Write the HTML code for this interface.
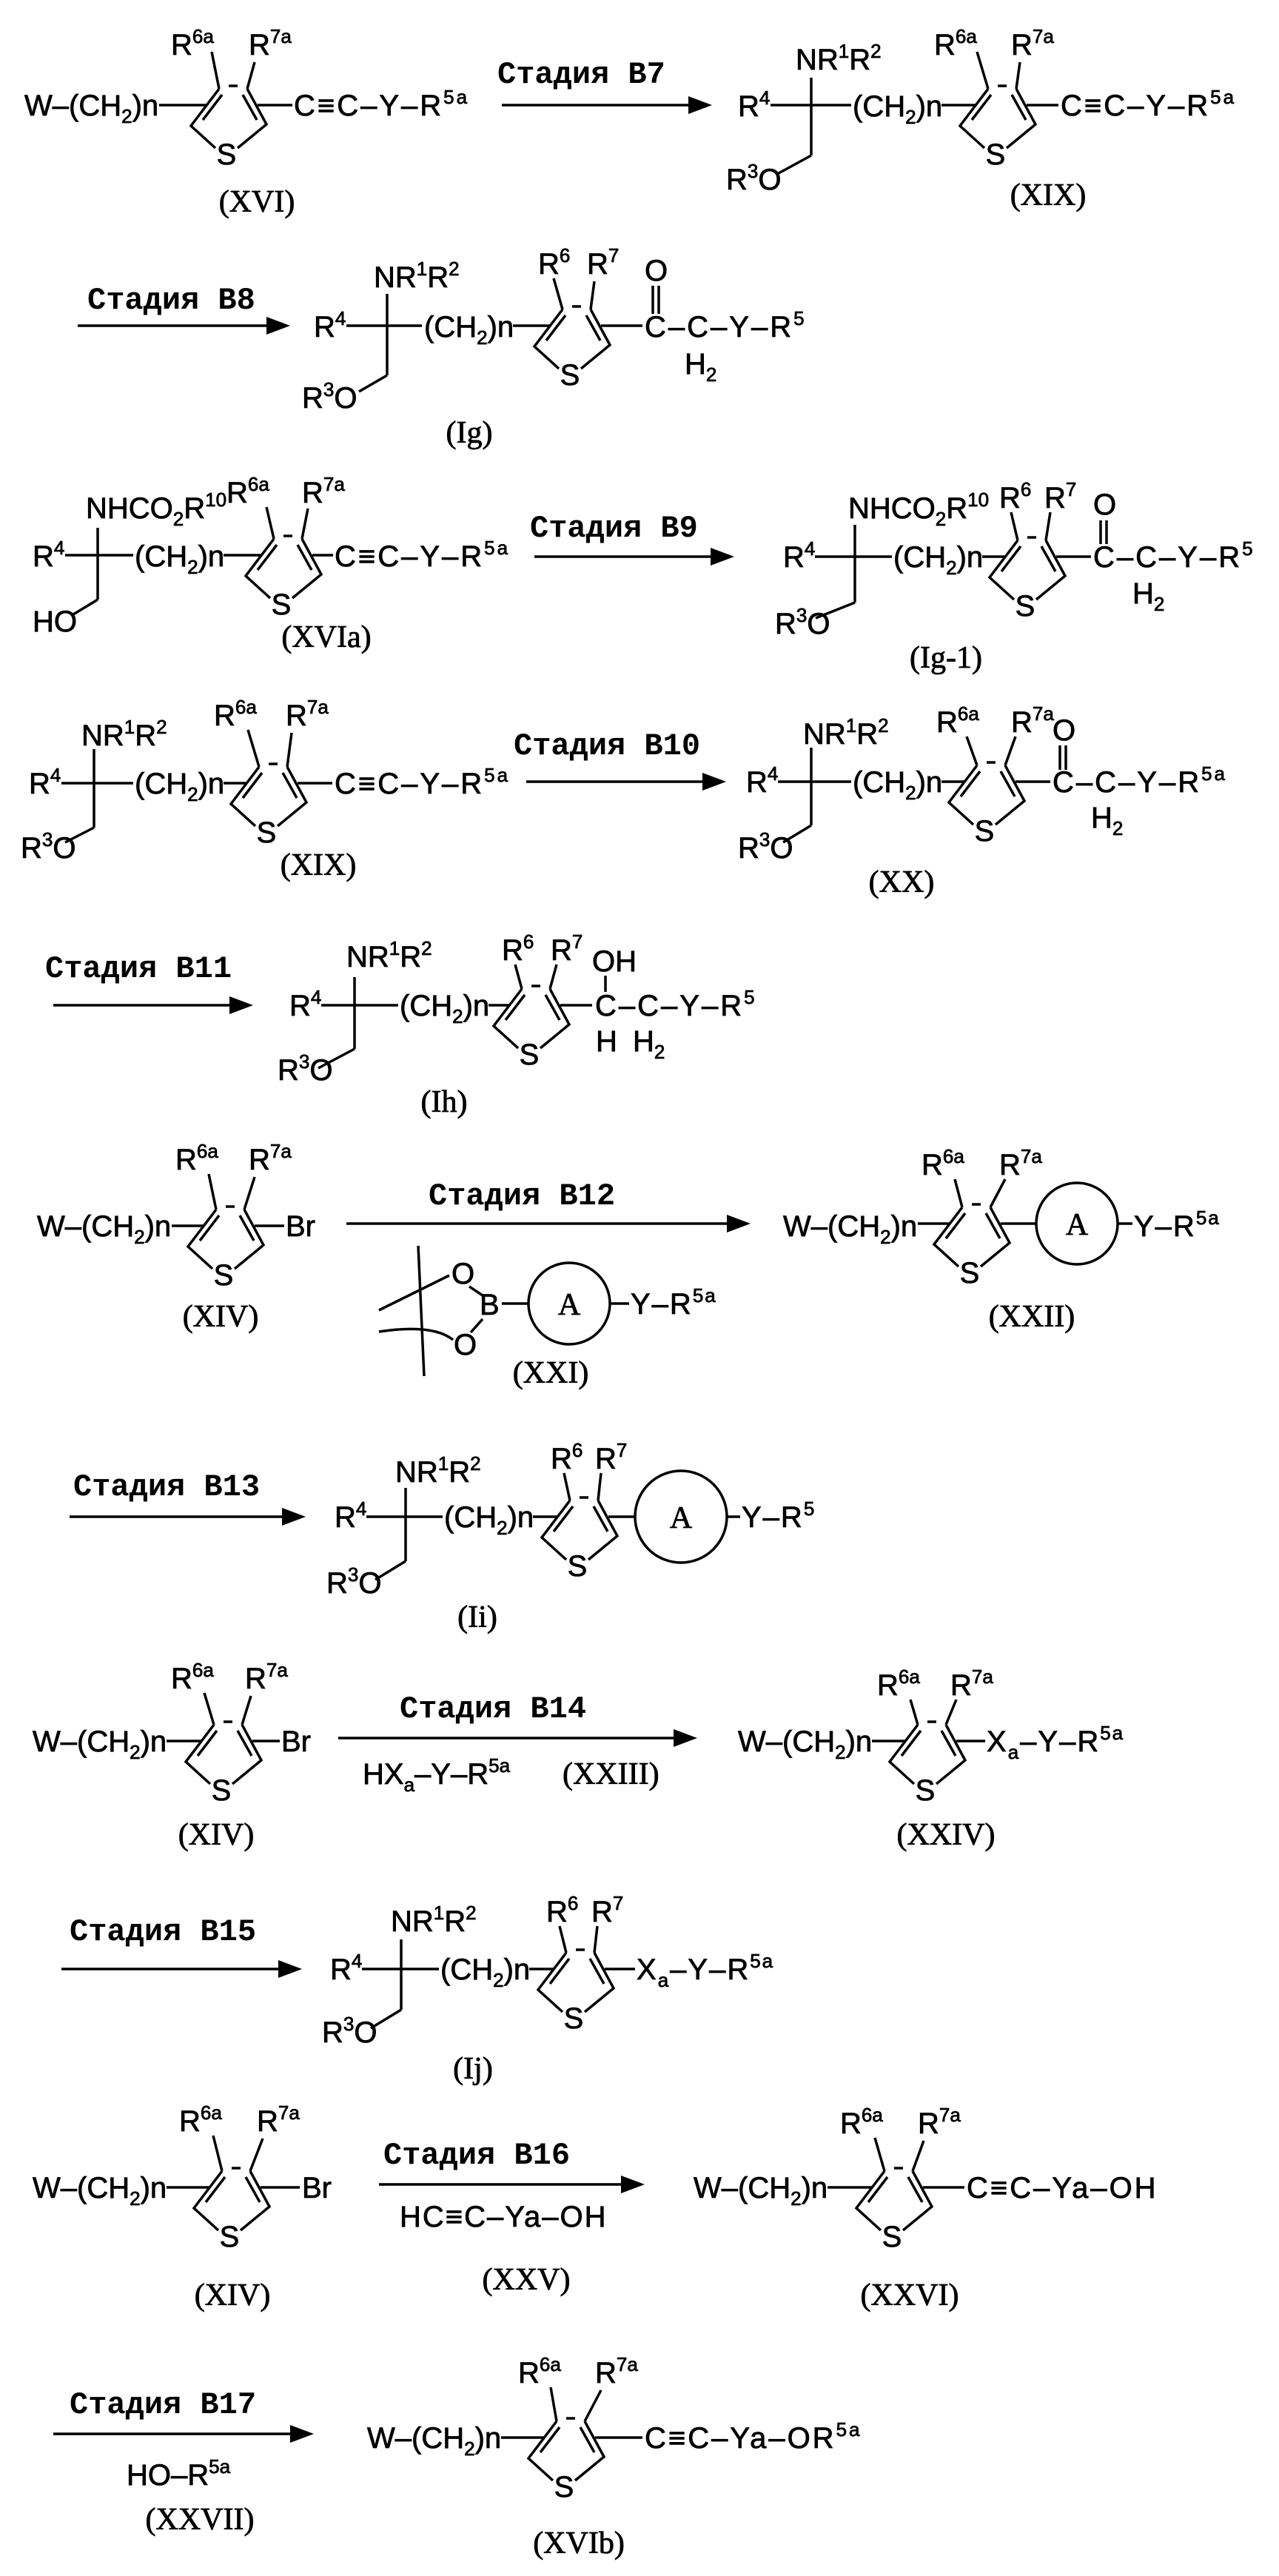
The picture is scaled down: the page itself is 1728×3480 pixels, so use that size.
<!DOCTYPE html>
<html><head><meta charset="utf-8"><style>
html,body{margin:0;padding:0;background:#fff}
svg{display:block}
.t{font-family:"Liberation Sans",sans-serif;font-size:40px;fill:#000;stroke:#000;stroke-width:0.8}
.m{font-family:"Liberation Mono",monospace;font-size:42px;font-weight:bold;fill:#000}
.s{font-family:"Liberation Serif",serif;font-size:42px;fill:#000;stroke:#000;stroke-width:0.8}
.p{font-size:26px}
.b{font-size:26px}
line,path,circle{stroke:#000;stroke-width:3.5;fill:none}
polygon{fill:#000}
</style></head><body>
<svg width="1728" height="3480" viewBox="0 0 1728 3480" xmlns="http://www.w3.org/2000/svg">
<defs>
<g id="r"><path d="M0,0 L-38,50 L-5,80 M25,80 L64,48 L38,0 M4,8 L-22,42 M32,8 L51,42 M13,-4 L25,-4" style="stroke:#000;stroke-width:3.5;fill:none"/></g>
</defs>

<!-- ROW 1: XVI -->
<text class="t" x="33" y="156">W–(CH<tspan class="b" dy="10">2</tspan><tspan dy="-10">)n</tspan></text>
<line x1="215" y1="142" x2="279" y2="142"/>
<use href="#r" x="296" y="120"/>
<text class="t" x="306" y="222" text-anchor="middle">S</text>
<text class="t" x="231" y="74">R<tspan class="p" dy="-16">6a</tspan></text>
<text class="t" x="336" y="74">R<tspan class="p" dy="-16">7a</tspan></text>
<line x1="286" y1="70" x2="296" y2="120"/><line x1="344" y1="84" x2="334" y2="120"/>
<line x1="348" y1="142" x2="395" y2="142"/>
<text class="t" x="397" y="156" letter-spacing="3">C≡C–Y–R<tspan class="p" dy="-16">5a</tspan></text>
<text class="s" x="347" y="286" text-anchor="middle">(XVI)</text>
<line x1="678" y1="142" x2="932" y2="142"/><polygon points="930,130 962,142 930,154"/>
<text class="m" x="672" y="112">Стадия B7</text>
<!-- XIX top -->
<text class="t" x="997" y="157">R<tspan class="p" dy="-16">4</tspan></text>
<line x1="1041" y1="142" x2="1150" y2="142"/>
<line x1="1096" y1="105" x2="1096" y2="210"/><line x1="1096" y1="210" x2="1052" y2="234"/>
<text class="t" x="1075" y="94">NR<tspan class="p" dy="-16">1</tspan><tspan dy="16">R</tspan><tspan class="p" dy="-16">2</tspan></text>
<text class="t" x="981" y="256">R<tspan class="p" dy="-16">3</tspan><tspan dy="16">O</tspan></text>
<text class="t" x="1152" y="157">(CH<tspan class="b" dy="10">2</tspan><tspan dy="-10">)n</tspan></text>
<line x1="1272" y1="142" x2="1318" y2="142"/>
<use href="#r" x="1335" y="120"/>
<text class="t" x="1345" y="222" text-anchor="middle">S</text>
<text class="t" x="1262" y="74">R<tspan class="p" dy="-16">6a</tspan></text>
<text class="t" x="1366" y="74">R<tspan class="p" dy="-16">7a</tspan></text>
<line x1="1320" y1="70" x2="1335" y2="120"/><line x1="1378" y1="84" x2="1373" y2="120"/>
<line x1="1387" y1="142" x2="1430" y2="142"/>
<text class="t" x="1433" y="156" letter-spacing="3">C≡C–Y–R<tspan class="p" dy="-16">5a</tspan></text>
<text class="s" x="1416" y="277" text-anchor="middle">(XIX)</text>

<!-- ROW 2: Ig -->
<line x1="105" y1="440" x2="362" y2="440"/><polygon points="360,428 392,440 360,452"/>
<text class="m" x="118" y="417">Стадия B8</text>
<text class="t" x="424" y="455">R<tspan class="p" dy="-16">4</tspan></text>
<line x1="468" y1="440" x2="570" y2="440"/>
<line x1="523" y1="397" x2="523" y2="507"/><line x1="523" y1="507" x2="485" y2="529"/>
<text class="t" x="505" y="388">NR<tspan class="p" dy="-16">1</tspan><tspan dy="16">R</tspan><tspan class="p" dy="-16">2</tspan></text>
<text class="t" x="408" y="551">R<tspan class="p" dy="-16">3</tspan><tspan dy="16">O</tspan></text>
<text class="t" x="573" y="455">(CH<tspan class="b" dy="10">2</tspan><tspan dy="-10">)n</tspan></text>
<line x1="693" y1="440" x2="743" y2="440"/>
<use href="#r" x="760" y="418"/>
<text class="t" x="770" y="520" text-anchor="middle">S</text>
<text class="t" x="727" y="370">R<tspan class="p" dy="-16">6</tspan></text>
<text class="t" x="793" y="370">R<tspan class="p" dy="-16">7</tspan></text>
<line x1="748" y1="376" x2="760" y2="418"/><line x1="803" y1="380" x2="798" y2="418"/>
<line x1="812" y1="440" x2="868" y2="440"/>
<text class="t" x="871" y="455" letter-spacing="3">C–C–Y–R<tspan class="p" dy="-16">5</tspan></text>
<text class="t" x="871" y="379">O</text>
<line x1="882" y1="386" x2="882" y2="424"/><line x1="890" y1="386" x2="890" y2="424"/>
<text class="t" x="925" y="505">H<tspan class="b" dy="10">2</tspan></text>
<text class="s" x="634" y="598" text-anchor="middle">(Ig)</text>

<!-- ROW 3: XVIa -->
<text class="t" x="44" y="765">R<tspan class="p" dy="-16">4</tspan></text>
<line x1="88" y1="750" x2="180" y2="750"/>
<line x1="132" y1="713" x2="132" y2="810"/><line x1="132" y1="810" x2="99" y2="830"/>
<text class="t" x="44" y="853">HO</text>
<text class="t" x="116" y="700" font-size="36">NHCO<tspan class="b" dy="10">2</tspan><tspan dy="-10">R</tspan><tspan class="p" dy="-16">10</tspan></text>
<text class="t" x="182" y="765">(CH<tspan class="b" dy="10">2</tspan><tspan dy="-10">)n</tspan></text>
<line x1="302" y1="750" x2="353" y2="750"/>
<use href="#r" x="370" y="728"/>
<text class="t" x="380" y="830" text-anchor="middle">S</text>
<text class="t" x="306" y="679">R<tspan class="p" dy="-16">6a</tspan></text>
<text class="t" x="408" y="679">R<tspan class="p" dy="-16">7a</tspan></text>
<line x1="360" y1="685" x2="370" y2="728"/><line x1="416" y1="687" x2="408" y2="728"/>
<line x1="422" y1="750" x2="450" y2="750"/>
<text class="t" x="452" y="765" letter-spacing="3">C≡C–Y–R<tspan class="p" dy="-16">5a</tspan></text>
<text class="s" x="441" y="874" text-anchor="middle">(XVIa)</text>
<line x1="722" y1="752" x2="962" y2="752"/><polygon points="960,740 992,752 960,764"/>
<text class="m" x="716" y="725">Стадия B9</text>
<!-- Ig-1 -->
<text class="t" x="1058" y="766">R<tspan class="p" dy="-16">4</tspan></text>
<line x1="1101" y1="752" x2="1205" y2="752"/>
<line x1="1155" y1="709" x2="1155" y2="814"/><line x1="1155" y1="814" x2="1102" y2="835"/>
<text class="t" x="1047" y="856">R<tspan class="p" dy="-16">3</tspan><tspan dy="16">O</tspan></text>
<text class="t" x="1146" y="700" font-size="36">NHCO<tspan class="b" dy="10">2</tspan><tspan dy="-10">R</tspan><tspan class="p" dy="-16">10</tspan></text>
<text class="t" x="1207" y="766">(CH<tspan class="b" dy="10">2</tspan><tspan dy="-10">)n</tspan></text>
<line x1="1327" y1="752" x2="1358" y2="752"/>
<use href="#r" x="1375" y="730"/>
<text class="t" x="1385" y="832" text-anchor="middle">S</text>
<text class="t" x="1350" y="686">R<tspan class="p" dy="-16">6</tspan></text>
<text class="t" x="1411" y="686">R<tspan class="p" dy="-16">7</tspan></text>
<line x1="1366" y1="692" x2="1375" y2="730"/><line x1="1419" y1="692" x2="1413" y2="730"/>
<line x1="1427" y1="752" x2="1474" y2="752"/>
<text class="t" x="1477" y="766" letter-spacing="3">C–C–Y–R<tspan class="p" dy="-16">5</tspan></text>
<text class="t" x="1477" y="695">O</text>
<line x1="1487" y1="703" x2="1487" y2="735"/><line x1="1495" y1="703" x2="1495" y2="735"/>
<text class="t" x="1530" y="815">H<tspan class="b" dy="10">2</tspan></text>
<text class="s" x="1278" y="902" text-anchor="middle">(Ig-1)</text>

<!-- ROW 4: XIX -->
<text class="t" x="39" y="1072">R<tspan class="p" dy="-16">4</tspan></text>
<line x1="83" y1="1058" x2="180" y2="1058"/>
<line x1="127" y1="1012" x2="127" y2="1118"/><line x1="127" y1="1118" x2="88" y2="1138"/>
<text class="t" x="28" y="1159">R<tspan class="p" dy="-16">3</tspan><tspan dy="16">O</tspan></text>
<text class="t" x="110" y="1007">NR<tspan class="p" dy="-16">1</tspan><tspan dy="16">R</tspan><tspan class="p" dy="-16">2</tspan></text>
<text class="t" x="182" y="1072">(CH<tspan class="b" dy="10">2</tspan><tspan dy="-10">)n</tspan></text>
<line x1="302" y1="1058" x2="333" y2="1058"/>
<use href="#r" x="350" y="1036"/>
<text class="t" x="360" y="1138" text-anchor="middle">S</text>
<text class="t" x="289" y="980">R<tspan class="p" dy="-16">6a</tspan></text>
<text class="t" x="386" y="980">R<tspan class="p" dy="-16">7a</tspan></text>
<line x1="335" y1="986" x2="350" y2="1036"/><line x1="394" y1="990" x2="388" y2="1036"/>
<line x1="402" y1="1058" x2="449" y2="1058"/>
<text class="t" x="452" y="1072" letter-spacing="3">C≡C–Y–R<tspan class="p" dy="-16">5a</tspan></text>
<text class="s" x="430" y="1182" text-anchor="middle">(XIX)</text>
<line x1="711" y1="1056" x2="951" y2="1056"/><polygon points="949,1044 981,1056 949,1068"/>
<text class="m" x="694" y="1019">Стадия B10</text>
<!-- XX -->
<text class="t" x="1008" y="1070">R<tspan class="p" dy="-16">4</tspan></text>
<line x1="1051" y1="1056" x2="1150" y2="1056"/>
<line x1="1096" y1="1010" x2="1096" y2="1115"/><line x1="1096" y1="1115" x2="1058" y2="1138"/>
<text class="t" x="997" y="1159">R<tspan class="p" dy="-16">3</tspan><tspan dy="16">O</tspan></text>
<text class="t" x="1085" y="1005">NR<tspan class="p" dy="-16">1</tspan><tspan dy="16">R</tspan><tspan class="p" dy="-16">2</tspan></text>
<text class="t" x="1152" y="1070">(CH<tspan class="b" dy="10">2</tspan><tspan dy="-10">)n</tspan></text>
<line x1="1272" y1="1056" x2="1303" y2="1056"/>
<use href="#r" x="1320" y="1034"/>
<text class="t" x="1330" y="1136" text-anchor="middle">S</text>
<text class="t" x="1265" y="989">R<tspan class="p" dy="-16">6a</tspan></text>
<text class="t" x="1366" y="989">R<tspan class="p" dy="-16">7a</tspan></text>
<line x1="1306" y1="995" x2="1320" y2="1034"/><line x1="1372" y1="995" x2="1358" y2="1034"/>
<line x1="1372" y1="1056" x2="1419" y2="1056"/>
<text class="t" x="1422" y="1070" letter-spacing="3">C–C–Y–R<tspan class="p" dy="-16">5a</tspan></text>
<text class="t" x="1422" y="1000">O</text>
<line x1="1432" y1="1007" x2="1432" y2="1040"/><line x1="1440" y1="1007" x2="1440" y2="1040"/>
<text class="t" x="1474" y="1118">H<tspan class="b" dy="10">2</tspan></text>
<text class="s" x="1218" y="1205" text-anchor="middle">(XX)</text>

<!-- ROW 5: Ih -->
<line x1="72" y1="1358" x2="312" y2="1358"/><polygon points="310,1346 342,1358 310,1370"/>
<text class="m" x="61" y="1320">Стадия B11</text>
<text class="t" x="391" y="1372">R<tspan class="p" dy="-16">4</tspan></text>
<line x1="434" y1="1358" x2="538" y2="1358"/>
<line x1="479" y1="1320" x2="479" y2="1417"/><line x1="479" y1="1417" x2="430" y2="1443"/>
<text class="t" x="375" y="1459">R<tspan class="p" dy="-16">3</tspan><tspan dy="16">O</tspan></text>
<text class="t" x="468" y="1306">NR<tspan class="p" dy="-16">1</tspan><tspan dy="16">R</tspan><tspan class="p" dy="-16">2</tspan></text>
<text class="t" x="540" y="1372">(CH<tspan class="b" dy="10">2</tspan><tspan dy="-10">)n</tspan></text>
<line x1="660" y1="1358" x2="688" y2="1358"/>
<use href="#r" x="705" y="1336"/>
<text class="t" x="715" y="1438" text-anchor="middle">S</text>
<text class="t" x="678" y="1297">R<tspan class="p" dy="-16">6</tspan></text>
<text class="t" x="744" y="1297">R<tspan class="p" dy="-16">7</tspan></text>
<line x1="696" y1="1303" x2="705" y2="1336"/><line x1="752" y1="1303" x2="743" y2="1336"/>
<line x1="757" y1="1358" x2="800" y2="1358"/>
<text class="t" x="804" y="1372" letter-spacing="3">C–C–Y–R<tspan class="p" dy="-16">5</tspan></text>
<text class="t" x="800" y="1312">OH</text>
<line x1="818" y1="1318" x2="818" y2="1340"/>
<text class="t" x="805" y="1420">H</text>
<text class="t" x="855" y="1420">H<tspan class="b" dy="10">2</tspan></text>
<text class="s" x="600" y="1502" text-anchor="middle">(Ih)</text>

<!-- ROW 6: XIV + XXI -> XXII -->
<text class="t" x="50" y="1670">W–(CH<tspan class="b" dy="10">2</tspan><tspan dy="-10">)n</tspan></text>
<line x1="232" y1="1656" x2="275" y2="1656"/>
<use href="#r" x="292" y="1634"/>
<text class="t" x="302" y="1736" text-anchor="middle">S</text>
<text class="t" x="237" y="1580">R<tspan class="p" dy="-16">6a</tspan></text>
<text class="t" x="336" y="1580">R<tspan class="p" dy="-16">7a</tspan></text>
<line x1="282" y1="1586" x2="292" y2="1634"/><line x1="344" y1="1590" x2="330" y2="1634"/>
<line x1="344" y1="1656" x2="384" y2="1656"/>
<text class="t" x="386" y="1670">Br</text>
<text class="s" x="298" y="1792" text-anchor="middle">(XIV)</text>
<line x1="468" y1="1653" x2="984" y2="1653"/><polygon points="982,1641 1014,1653 982,1665"/>
<text class="m" x="579" y="1627">Стадия B12</text>
<!-- XXI -->
<line x1="565" y1="1683" x2="573" y2="1859"/>
<line x1="512" y1="1770" x2="607" y2="1723"/>
<path d="M512,1799 Q585,1788 612,1810"/>
<text class="t" x="610" y="1734">O</text>
<text class="t" x="613" y="1830">O</text>
<text class="t" x="648" y="1776">B</text>
<line x1="634" y1="1738" x2="652" y2="1750"/><line x1="652" y1="1782" x2="636" y2="1800"/>
<line x1="678" y1="1761" x2="714" y2="1761"/>
<circle cx="769" cy="1761" r="55"/>
<text class="s" x="769" y="1776" text-anchor="middle">A</text>
<line x1="824" y1="1761" x2="850" y2="1761"/>
<text class="t" x="852" y="1775" letter-spacing="2">Y–R<tspan class="p" dy="-16">5a</tspan></text>
<text class="s" x="744" y="1868" text-anchor="middle">(XXI)</text>
<!-- XXII -->
<text class="t" x="1058" y="1670">W–(CH<tspan class="b" dy="10">2</tspan><tspan dy="-10">)n</tspan></text>
<line x1="1240" y1="1653" x2="1283" y2="1653"/>
<use href="#r" x="1300" y="1631"/>
<text class="t" x="1310" y="1733" text-anchor="middle">S</text>
<text class="t" x="1245" y="1587">R<tspan class="p" dy="-16">6a</tspan></text>
<text class="t" x="1350" y="1587">R<tspan class="p" dy="-16">7a</tspan></text>
<line x1="1290" y1="1593" x2="1300" y2="1631"/><line x1="1358" y1="1593" x2="1338" y2="1631"/>
<line x1="1352" y1="1653" x2="1400" y2="1653"/>
<circle cx="1455" cy="1653" r="55"/>
<text class="s" x="1455" y="1668" text-anchor="middle">A</text>
<line x1="1510" y1="1653" x2="1530" y2="1653"/>
<text class="t" x="1532" y="1670" letter-spacing="2">Y–R<tspan class="p" dy="-16">5a</tspan></text>
<text class="s" x="1394" y="1792" text-anchor="middle">(XXII)</text>

<!-- ROW 7: Ii -->
<line x1="94" y1="2049" x2="383" y2="2049"/><polygon points="381,2037 413,2049 381,2061"/>
<text class="m" x="99" y="2020">Стадия B13</text>
<text class="t" x="452" y="2063">R<tspan class="p" dy="-16">4</tspan></text>
<line x1="495" y1="2049" x2="598" y2="2049"/>
<line x1="548" y1="2010" x2="548" y2="2109"/><line x1="548" y1="2109" x2="507" y2="2134"/>
<text class="t" x="441" y="2152">R<tspan class="p" dy="-16">3</tspan><tspan dy="16">O</tspan></text>
<text class="t" x="534" y="2002">NR<tspan class="p" dy="-16">1</tspan><tspan dy="16">R</tspan><tspan class="p" dy="-16">2</tspan></text>
<text class="t" x="600" y="2063">(CH<tspan class="b" dy="10">2</tspan><tspan dy="-10">)n</tspan></text>
<line x1="720" y1="2049" x2="753" y2="2049"/>
<use href="#r" x="770" y="2027"/>
<text class="t" x="780" y="2129" text-anchor="middle">S</text>
<text class="t" x="744" y="1984">R<tspan class="p" dy="-16">6</tspan></text>
<text class="t" x="804" y="1984">R<tspan class="p" dy="-16">7</tspan></text>
<line x1="762" y1="1990" x2="770" y2="2027"/><line x1="812" y1="1990" x2="808" y2="2027"/>
<line x1="822" y1="2049" x2="858" y2="2049"/>
<circle cx="920" cy="2049" r="62"/>
<text class="s" x="920" y="2064" text-anchor="middle">A</text>
<line x1="982" y1="2049" x2="1000" y2="2049"/>
<text class="t" x="1002" y="2063" letter-spacing="2">Y–R<tspan class="p" dy="-16">5</tspan></text>
<text class="s" x="645" y="2198" text-anchor="middle">(Ii)</text>

<!-- ROW 8: XIV -> XXIV -->
<text class="t" x="44" y="2366">W–(CH<tspan class="b" dy="10">2</tspan><tspan dy="-10">)n</tspan></text>
<line x1="225" y1="2352" x2="272" y2="2352"/>
<use href="#r" x="289" y="2330"/>
<text class="t" x="299" y="2432" text-anchor="middle">S</text>
<text class="t" x="231" y="2281">R<tspan class="p" dy="-16">6a</tspan></text>
<text class="t" x="331" y="2281">R<tspan class="p" dy="-16">7a</tspan></text>
<line x1="276" y1="2287" x2="289" y2="2330"/><line x1="339" y1="2291" x2="327" y2="2330"/>
<line x1="341" y1="2352" x2="378" y2="2352"/>
<text class="t" x="380" y="2366">Br</text>
<text class="s" x="292" y="2492" text-anchor="middle">(XIV)</text>
<line x1="457" y1="2348" x2="912" y2="2348"/><polygon points="910,2336 942,2348 910,2360"/>
<text class="m" x="540" y="2320">Стадия B14</text>
<text class="t" x="490" y="2410">HX<tspan class="b" dy="10">a</tspan><tspan dy="-10">–Y–R</tspan><tspan class="p" dy="-16">5a</tspan></text>
<text class="s" x="760" y="2410">(XXIII)</text>
<text class="t" x="997" y="2366">W–(CH<tspan class="b" dy="10">2</tspan><tspan dy="-10">)n</tspan></text>
<line x1="1178" y1="2352" x2="1223" y2="2352"/>
<use href="#r" x="1240" y="2330"/>
<text class="t" x="1250" y="2432" text-anchor="middle">S</text>
<text class="t" x="1185" y="2290">R<tspan class="p" dy="-16">6a</tspan></text>
<text class="t" x="1284" y="2290">R<tspan class="p" dy="-16">7a</tspan></text>
<line x1="1230" y1="2296" x2="1240" y2="2330"/><line x1="1292" y1="2296" x2="1278" y2="2330"/>
<line x1="1292" y1="2352" x2="1331" y2="2352"/>
<text class="t" x="1333" y="2366" letter-spacing="2">X<tspan class="b" dy="10">a</tspan><tspan dy="-10">–Y–R</tspan><tspan class="p" dy="-16">5a</tspan></text>
<text class="s" x="1278" y="2492" text-anchor="middle">(XXIV)</text>

<!-- ROW 9: Ij -->
<line x1="83" y1="2660" x2="378" y2="2660"/><polygon points="376,2648 408,2660 376,2672"/>
<text class="m" x="94" y="2621">Стадия B15</text>
<text class="t" x="446" y="2674">R<tspan class="p" dy="-16">4</tspan></text>
<line x1="489" y1="2660" x2="593" y2="2660"/>
<line x1="542" y1="2620" x2="542" y2="2715"/><line x1="542" y1="2715" x2="501" y2="2740"/>
<text class="t" x="435" y="2759">R<tspan class="p" dy="-16">3</tspan><tspan dy="16">O</tspan></text>
<text class="t" x="528" y="2609">NR<tspan class="p" dy="-16">1</tspan><tspan dy="16">R</tspan><tspan class="p" dy="-16">2</tspan></text>
<text class="t" x="595" y="2674">(CH<tspan class="b" dy="10">2</tspan><tspan dy="-10">)n</tspan></text>
<line x1="715" y1="2660" x2="748" y2="2660"/>
<use href="#r" x="765" y="2638"/>
<text class="t" x="775" y="2740" text-anchor="middle">S</text>
<text class="t" x="738" y="2596">R<tspan class="p" dy="-16">6</tspan></text>
<text class="t" x="799" y="2596">R<tspan class="p" dy="-16">7</tspan></text>
<line x1="756" y1="2602" x2="765" y2="2638"/><line x1="807" y1="2602" x2="803" y2="2638"/>
<line x1="817" y1="2660" x2="858" y2="2660"/>
<text class="t" x="860" y="2674" letter-spacing="2">X<tspan class="b" dy="10">a</tspan><tspan dy="-10">–Y–R</tspan><tspan class="p" dy="-16">5a</tspan></text>
<text class="s" x="639" y="2808" text-anchor="middle">(Ij)</text>

<!-- ROW 10: XIV -> XXVI -->
<text class="t" x="44" y="2969">W–(CH<tspan class="b" dy="10">2</tspan><tspan dy="-10">)n</tspan></text>
<line x1="225" y1="2955" x2="283" y2="2955"/>
<use href="#r" x="300" y="2933"/>
<text class="t" x="310" y="3035" text-anchor="middle">S</text>
<text class="t" x="242" y="2879">R<tspan class="p" dy="-16">6a</tspan></text>
<text class="t" x="347" y="2879">R<tspan class="p" dy="-16">7a</tspan></text>
<line x1="288" y1="2885" x2="300" y2="2933"/><line x1="355" y1="2889" x2="338" y2="2933"/>
<line x1="352" y1="2955" x2="405" y2="2955"/>
<text class="t" x="408" y="2969">Br</text>
<text class="s" x="314" y="3114" text-anchor="middle">(XIV)</text>
<line x1="512" y1="2951" x2="841" y2="2951"/><polygon points="839,2939 871,2951 839,2963"/>
<text class="m" x="518" y="2923">Стадия B16</text>
<text class="t" x="540" y="3008" letter-spacing="2">HC≡C–Ya–OH</text>
<text class="s" x="711" y="3093" text-anchor="middle">(XXV)</text>
<text class="t" x="937" y="2969">W–(CH<tspan class="b" dy="10">2</tspan><tspan dy="-10">)n</tspan></text>
<line x1="1118" y1="2955" x2="1178" y2="2955"/>
<use href="#r" x="1195" y="2933"/>
<text class="t" x="1205" y="3035" text-anchor="middle">S</text>
<text class="t" x="1135" y="2882">R<tspan class="p" dy="-16">6a</tspan></text>
<text class="t" x="1240" y="2882">R<tspan class="p" dy="-16">7a</tspan></text>
<line x1="1182" y1="2888" x2="1195" y2="2933"/><line x1="1248" y1="2892" x2="1233" y2="2933"/>
<line x1="1247" y1="2955" x2="1303" y2="2955"/>
<text class="t" x="1306" y="2969" letter-spacing="3">C≡C–Ya–OH</text>
<text class="s" x="1229" y="3114" text-anchor="middle">(XXVI)</text>

<!-- ROW 11: XVIb -->
<line x1="72" y1="3288" x2="394" y2="3288"/><polygon points="392,3276 424,3288 392,3300"/>
<text class="m" x="94" y="3260">Стадия B17</text>
<text class="t" x="171" y="3357">HO–R<tspan class="p" dy="-16">5a</tspan></text>
<text class="s" x="270" y="3417" text-anchor="middle">(XXVII)</text>
<text class="t" x="496" y="3307">W–(CH<tspan class="b" dy="10">2</tspan><tspan dy="-10">)n</tspan></text>
<line x1="677" y1="3293" x2="735" y2="3293"/>
<use href="#r" x="752" y="3271"/>
<text class="t" x="762" y="3373" text-anchor="middle">S</text>
<text class="t" x="700" y="3219">R<tspan class="p" dy="-16">6a</tspan></text>
<text class="t" x="804" y="3219">R<tspan class="p" dy="-16">7a</tspan></text>
<line x1="744" y1="3225" x2="752" y2="3271"/><line x1="812" y1="3229" x2="790" y2="3271"/>
<line x1="804" y1="3293" x2="868" y2="3293"/>
<text class="t" x="871" y="3307" letter-spacing="3">C≡C–Ya–OR<tspan class="p" dy="-16">5a</tspan></text>
<text class="s" x="782" y="3449" text-anchor="middle">(XVIb)</text>
</svg>
</body></html>
